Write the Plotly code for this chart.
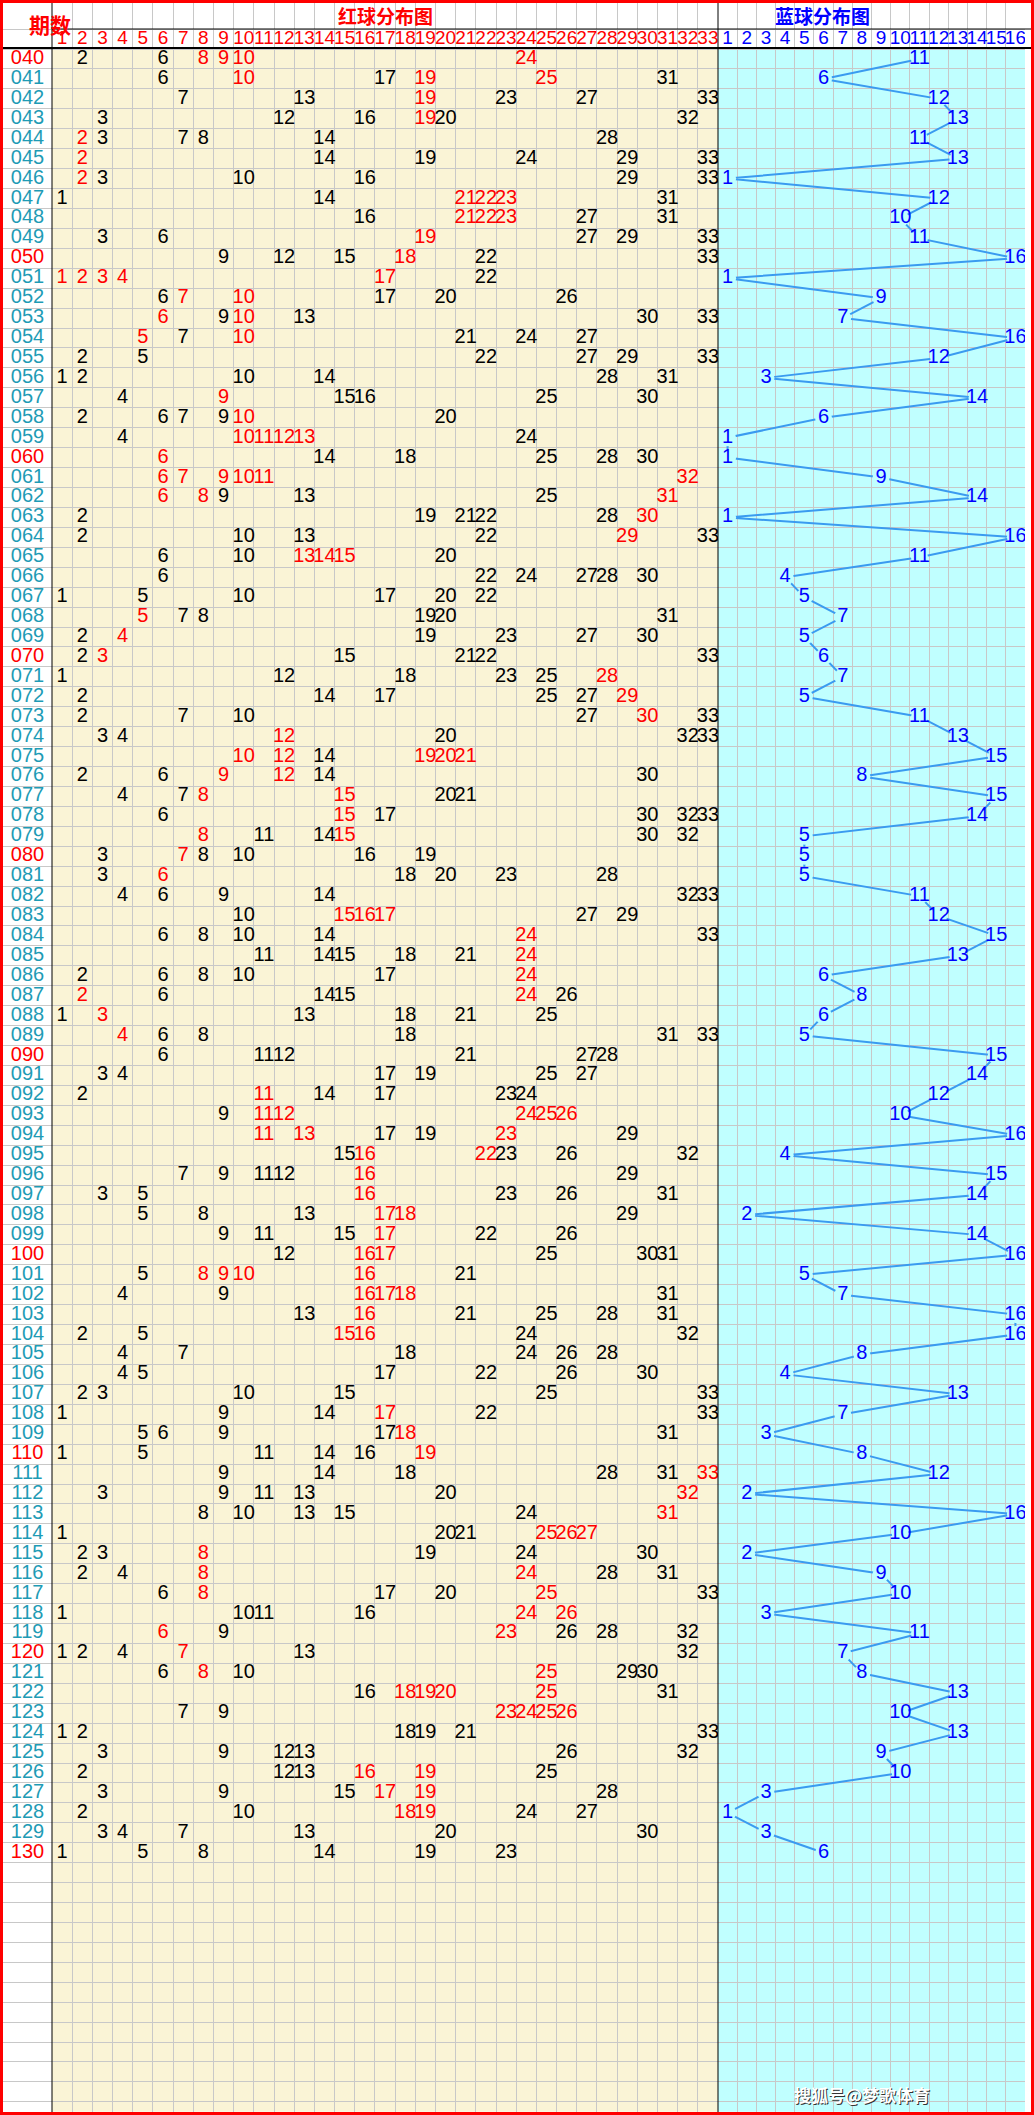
import plotly.graph_objects as go

periods = [f"{i:03d}" for i in range(40, 131)]
red_nums = [
 [2,6,8,9,10,24],[6,10,17,19,25,31],[7,13,19,23,27,33],[3,12,16,19,20,32],[2,3,7,8,14,28],
 [2,14,19,24,29,33],[2,3,10,16,29,33],[1,14,21,22,23,31],[16,21,22,23,27,31],[3,6,19,27,29,33],
 [9,12,15,18,22,33],[1,2,3,4,17,22],[6,7,10,17,20,26],[6,9,10,13,30,33],[5,7,10,21,24,27],
 [2,5,22,27,29,33],[1,2,10,14,28,31],[4,9,15,16,25,30],[2,6,7,9,10,20],[4,10,11,12,13,24],
 [6,14,18,25,28,30],[6,7,9,10,11,32],[6,8,9,13,25,31],[2,19,21,22,28,30],[2,10,13,22,29,33],
 [6,10,13,14,15,20],[6,22,24,27,28,30],[1,5,10,17,20,22],[5,7,8,19,20,31],[2,4,19,23,27,30],
 [2,3,15,21,22,33],[1,12,18,23,25,28],[2,14,17,25,27,29],[2,7,10,27,30,33],[3,4,12,20,32,33],
 [10,12,14,19,20,21],[2,6,9,12,14,30],[4,7,8,15,20,21],[6,15,17,30,32,33],[8,11,14,15,30,32],
 [3,7,8,10,16,19],[3,6,18,20,23,28],[4,6,9,14,32,33],[10,15,16,17,27,29],[6,8,10,14,24,33],
 [11,14,15,18,21,24],[2,6,8,10,17,24],[2,6,14,15,24,26],[1,3,13,18,21,25],[4,6,8,18,31,33],
 [6,11,12,21,27,28],[3,4,17,19,25,27],[2,11,14,17,23,24],[9,11,12,24,25,26],[11,13,17,19,23,29],
 [15,16,22,23,26,32],[7,9,11,12,16,29],[3,5,16,23,26,31],[5,8,13,17,18,29],[9,11,15,17,22,26],
 [12,16,17,25,30,31],[5,8,9,10,16,21],[4,9,16,17,18,31],[13,16,21,25,28,31],[2,5,15,16,24,32],
 [4,7,18,24,26,28],[4,5,17,22,26,30],[2,3,10,15,25,33],[1,9,14,17,22,33],[5,6,9,17,18,31],
 [1,5,11,14,16,19],[9,14,18,28,31,33],[3,9,11,13,20,32],[8,10,13,15,24,31],[1,20,21,25,26,27],
 [2,3,8,19,24,30],[2,4,8,24,28,31],[6,8,17,20,25,33],[1,10,11,16,24,26],[6,9,23,26,28,32],
 [1,2,4,7,13,32],[6,8,10,25,29,30],[16,18,19,20,25,31],[7,9,23,24,25,26],[1,2,18,19,21,33],
 [3,9,12,13,26,32],[2,12,13,16,19,25],[3,9,15,17,19,28],[2,10,18,19,24,27],[3,4,7,13,20,30],
 [1,5,8,14,19,23],
]
red_hot = [
 [8,9,10,24],[10,19,25],[19],[19],[2],[2],[2],[21,22,23],[21,22,23],[19],
 [18],[1,2,3,4,17],[7,10],[6,10],[5,10],[],[],[9],[10],[10,11,12,13],
 [6],[6,7,9,10,11,32],[6,8,31],[30],[29],[13,14,15],[],[],[5],[4],
 [3],[28],[29],[30],[12],[10,12,19,20,21],[9,12],[8,15],[15],[8,15],
 [7],[6],[],[15,16,17],[24],[24],[24],[2,24],[3],[4],
 [],[],[11],[11,12,24,25,26],[11,13,23],[16,22],[16],[16],[17,18],[17],
 [16,17],[8,9,10,16],[16,17,18],[16],[15,16],[],[],[],[17],[18],
 [19],[33],[32],[31],[25,26,27],[8],[8,24],[8,25],[24,26],[6,23],
 [7],[8,25],[18,19,20,25],[23,24,25,26],[],[],[16,19],[17,19],[18,19],[],
 [],
]
blue_nums = [11,6,12,13,11,13,1,12,10,11,16,1,9,7,16,12,3,14,6,1,1,9,14,1,16,11,4,5,7,5,6,7,5,11,13,15,8,15,14,5,
             5,5,11,12,15,13,6,8,6,5,15,14,12,10,16,4,15,14,2,14,16,5,7,16,16,8,4,13,7,3,8,12,2,16,10,2,9,10,3,11,
             7,8,13,10,13,9,10,3,1,3,6]
red_cols = list(range(1, 34))
blue_cols = list(range(1, 17))
red_periods = ["040","050","060","070","080","090","100","110","120","130"]

W, H = 1034, 2115
x_lab = [0.003, 52/W]
x_red = [52/W, 718/W]
x_blue = [718/W, 1025/W]
pitch = 19.93
top0 = 59
yr = [(H - top0)/pitch, -top0/pitch]
nrows = len(periods)
n_total = 103

FONT = "Liberation Sans Narrow, Liberation Sans, Arial"
CJK = "Noto Sans CJK SC"
fig = go.Figure()

rx, ry, rt, rc = [], [], [], []
for i, (nums, hot) in enumerate(zip(red_nums, red_hot)):
    for n in nums:
        rx.append(n); ry.append(i); rt.append(str(n))
        rc.append("#FF0000" if n in hot else "#000000")
fig.add_trace(go.Scatter(x=rx, y=ry, text=rt, mode="text", xaxis="x", yaxis="y",
                         textfont=dict(family=FONT, size=20, color=rc), hoverinfo="skip"))
fig.add_trace(go.Scatter(x=red_cols, y=[-1]*33, text=[str(c) for c in red_cols], mode="text",
                         xaxis="x", yaxis="y", textfont=dict(family=FONT, size=19, color="#FF0000")))

fig.add_trace(go.Scatter(x=blue_nums, y=list(range(nrows)), mode="lines+markers", xaxis="x2", yaxis="y2",
                         line=dict(color="#3A9BF0", width=2),
                         marker=dict(size=17, color="#C0FFFF", line=dict(width=0)), hoverinfo="skip"))
fig.add_trace(go.Scatter(x=blue_nums, y=list(range(nrows)), text=[str(b) for b in blue_nums], mode="text",
                         xaxis="x2", yaxis="y2", textfont=dict(family=FONT, size=20, color="#0000FF")))
fig.add_trace(go.Scatter(x=blue_cols, y=[-1]*16, text=[str(c) for c in blue_cols], mode="text",
                         xaxis="x2", yaxis="y2", textfont=dict(family=FONT, size=19, color="#0000FF")))

fig.add_trace(go.Scatter(x=[0.5]*nrows, y=list(range(nrows)), text=periods, mode="text", xaxis="x3", yaxis="y3",
                         textfont=dict(family=FONT, size=20,
                                       color=["#FF0000" if p in red_periods else "#1E9BB5" for p in periods])))

shapes = []
def rect(xref, yref, x0, x1, y0, y1, color):
    shapes.append(dict(type="rect", xref=xref, yref=yref, x0=x0, x1=x1, y0=y0, y1=y1,
                       fillcolor=color, line=dict(width=0), layer="below"))
rect("paper", "paper", 0, 1, 0, 1, "#FFFFFF")
rect("x", "y", 0.5, 33.5, -0.5, n_total, "#FAF4D6")
rect("x2", "y2", 0.5, 16.5, -0.5, n_total, "#C0FFFF")
line_k = dict(color="#000000", width=1)
for xp in [52/W, 718/W]:
    shapes.append(dict(type="line", xref="paper", yref="paper", x0=xp, x1=xp, y0=0, y1=1, line=line_k))
for ypix, w, x0 in [(29, 1, 52/W), (48, 2, 0)]:
    shapes.append(dict(type="line", xref="paper", yref="paper", x0=x0, x1=1,
                       y0=1-ypix/H, y1=1-ypix/H, line=dict(color="#000000", width=w)))
shapes.append(dict(type="rect", xref="paper", yref="paper", x0=0, x1=1, y0=0, y1=1,
                   line=dict(color="#FF0000", width=6), fillcolor="rgba(0,0,0,0)"))

grid = "#C8C8C8"
ygrid = [k - 0.5 for k in range(-1, n_total + 1)]
def xax(domain, rng, tv):
    return dict(domain=domain, range=rng, tickvals=tv, showticklabels=False, showgrid=True, gridcolor=grid,
                gridwidth=1, zeroline=False, ticks="", showline=False, fixedrange=True)
def yax(anchor):
    return dict(range=yr, domain=[0, 1], anchor=anchor, tickvals=ygrid, showticklabels=False, showgrid=True,
                gridcolor=grid, zeroline=False, ticks="", fixedrange=True)

ann = [
    dict(text="<b>红球分布图</b>", x=(x_red[0]+x_red[1])/2, y=1-15/H, xref="paper", yref="paper", showarrow=False,
         yanchor="middle", font=dict(family=CJK, size=19, color="#FF0000")),
    dict(text="<b>蓝球分布图</b>", x=(x_blue[0]+x_blue[1])/2, y=1-15/H, xref="paper", yref="paper", showarrow=False,
         yanchor="middle", font=dict(family=CJK, size=19, color="#0000FF")),
    dict(text="<b>期数</b>", x=27/W, y=1-24/H, xref="paper", yref="paper", showarrow=False, yanchor="middle",
         font=dict(family=CJK, size=21, color="#FF0000")),
    dict(text="<b>搜狐号@梦歌体育</b>", x=933/W, y=1-2095/H, xref="paper", yref="paper", showarrow=False,
         yanchor="middle", font=dict(family=CJK, size=17, color="#333333")),
    dict(text="<b>搜狐号@梦歌体育</b>", x=932/W, y=1-2094/H, xref="paper", yref="paper", showarrow=False,
         yanchor="middle", font=dict(family=CJK, size=17, color="#FFFFFF")),
]

fig.update_layout(
    width=W, height=H, margin=dict(l=0, r=0, t=0, b=0), showlegend=False,
    paper_bgcolor="#FFFFFF", plot_bgcolor="rgba(0,0,0,0)",
    xaxis=xax(x_red, [0.5, 33.5], [k + 0.5 for k in range(0, 34)]),
    xaxis2=xax(x_blue, [0.5, 16.5], [k + 0.5 for k in range(0, 17)]),
    xaxis3=xax(x_lab, [0, 1], []),
    yaxis=yax("x"), yaxis2=yax("x2"), yaxis3=yax("x3"),
    shapes=shapes, annotations=ann,
)
fig.write_html("out.html", config={"displayModeBar": False},
               post_script="document.body.style.margin='0';document.body.style.overflow='hidden';")
